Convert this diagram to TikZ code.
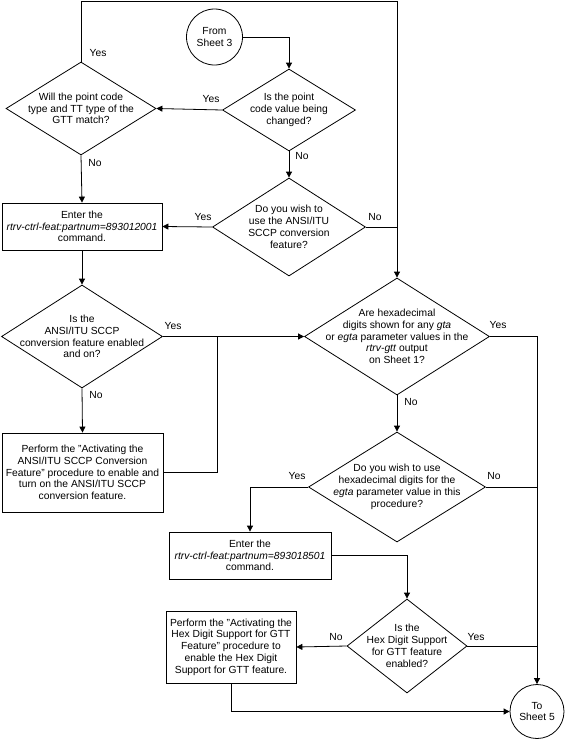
\documentclass[tikz,border=0pt]{standalone}
\usepackage{fontspec}
\setmainfont{Liberation Sans}
\usetikzlibrary{shapes.geometric,arrows.meta}
\begin{document}
\begin{tikzpicture}[x=1pt,y=-1pt,line width=.8pt,
  every node/.style={font=\fontsize{10.3}{11.8}\selectfont,align=center},
  dec/.style={draw,diamond,inner sep=0pt},
  box/.style={draw,rectangle,inner sep=0pt},
  term/.style={draw,circle,inner sep=0pt},
  lbl/.style={inner sep=0pt},
  to/.style={-{Triangle[length=6pt,width=6pt]}}]
\useasboundingbox (0,0) rectangle (565,742);
\node[term,minimum size=56pt] (s3) at (214.5,37) {From\\Sheet 3};
\node[dec,minimum width=133pt,minimum height=82pt,label={center:{Is the point\\code value being\\changed?}}] (q1) at (289,110) {};
\node[dec,minimum width=150pt,minimum height=93pt,label={center:{Will the point code\\type and TT type of the\\GTT match?}}] (gtt) at (81,108.5) {};
\node[dec,minimum width=153pt,minimum height=98pt,label={center:{Do you wish to\\use the ANSI/ITU\\SCCP conversion\\feature?}}] (q2) at (289,227) {};
\node[box,minimum width=160pt,minimum height=47pt] (e1) at (82,226.5) {Enter the\\\textit{rtrv-ctrl-feat:partnum=893012001}\\command.};
\node[dec,minimum width=161pt,minimum height=103pt,label={center:{Is the\\ANSI/ITU SCCP\\conversion feature enabled\\and on?}}] (q3) at (82,336.5) {};
\node[box,minimum width=161pt,minimum height=79pt] (p1) at (82.5,472.5) {Perform the "Activating the\\ANSI/ITU SCCP Conversion\\Feature" procedure to enable and\\turn on the ANSI/ITU SCCP\\conversion feature.};
\node[dec,minimum width=185pt,minimum height=117pt,label={center:{Are hexadecimal\\digits shown for any \textit{gta}\\or \textit{egta} parameter values in the\\\textit{rtrv-gtt} output\\on Sheet 1?}}] (hx) at (397,336.5) {};
\node[dec,minimum width=177pt,minimum height=110pt,label={center:{Do you wish to use\\hexadecimal digits for the\\\textit{egta} parameter value in this\\procedure?}}] (q5) at (397,487) {};
\node[box,minimum width=162pt,minimum height=47pt] (e2) at (250,555.5) {Enter the\\\textit{rtrv-ctrl-feat:partnum=893018501}\\command.};
\node[dec,minimum width=120pt,minimum height=94pt,label={center:{Is the\\Hex Digit Support\\for GTT feature\\enabled?}}] (q6) at (407,646) {};
\node[box,minimum width=130pt,minimum height=72pt] (p2) at (231,647) {Perform the "Activating the\\Hex Digit Support for GTT\\Feature" procedure to\\enable the Hex Digit\\Support for GTT feature.};
\node[term,minimum size=54pt] (ts5) at (537,711.5) {To\\Sheet 5};
\coordinate (tl) at (81,1);
\coordinate (tr) at (397,1);
\coordinate (j1) at (217,336.5);
\draw[to] (s3.east) -| (q1.north);
\draw[to] (q1.west) -- (gtt.east);
\draw[to] (q1.south) -- (q2.north);
\draw[to] (gtt.north) -- (tl) -- (tr) -- (hx.north);
\draw[to] (gtt.south) -- (e1.north);
\draw[to] (q2.west) -- (e1.east);
\draw (q2.east) -- (q2.east -| tr);
\draw[to] (e1.south) -- (q3.north);
\draw[to] (q3.east) -- (hx.west);
\draw[to] (q3.south) -- (p1.north);
\draw (p1.east) -| (j1);
\draw[to] (hx.east) -| (ts5.north);
\draw[to] (hx.south) -- (q5.north);
\draw[to] (q5.west) -| (e2.north);
\draw (q5.east) -- (q5.east -| ts5.north);
\draw[to] (e2.east) -| (q6.north);
\draw[to] (q6.west) -- (p2.east);
\draw (q6.east) -- (q6.east -| ts5.north);
\draw[to] (p2.south) |- (ts5.west);
\node[lbl] (y1) at (98,53) {Yes};
\node[lbl] (y2) at (211,99) {Yes};
\node[lbl] (n1) at (95,163) {No};
\node[lbl] (n2) at (302,156) {No};
\node[lbl] (y3) at (203,217) {Yes};
\node[lbl] (n3) at (375,217) {No};
\node[lbl] (y4) at (173,326) {Yes};
\node[lbl] (n4) at (96,395) {No};
\node[lbl] (y5) at (498,325) {Yes};
\node[lbl] (n5) at (411,402) {No};
\node[lbl] (y6) at (297,476) {Yes};
\node[lbl] (n6) at (494,476) {No};
\node[lbl] (n7) at (336,637) {No};
\node[lbl] (y7) at (476,637) {Yes};
\end{tikzpicture}
\end{document}
